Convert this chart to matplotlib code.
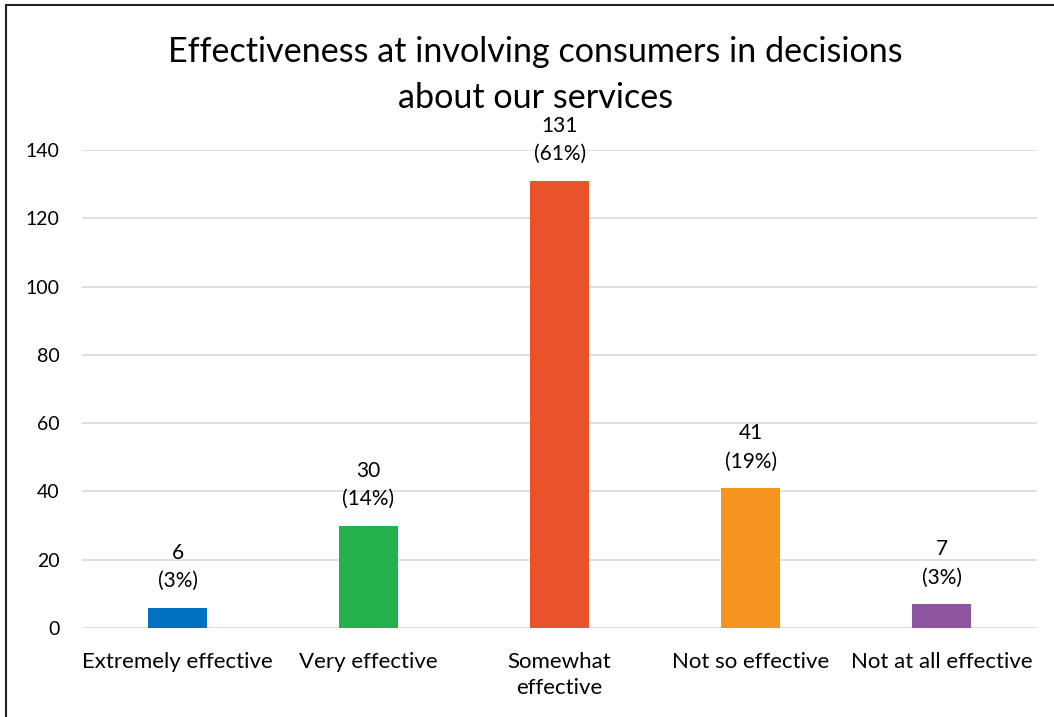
import numpy as np
import matplotlib.pyplot as plt
from matplotlib.patches import Rectangle

categorias = ['Extremely effective', 'Very effective', 'Somewhat\neffective',
              'Not so effective', 'Not at all effective']
respuestas = [6, 30, 131, 41, 7]
porcentajes = [3, 14, 61, 19, 3]
colores = ['#0070C0', '#22B14C', '#E9532B', '#F7941F', '#8E54A0']

plt.rcParams['font.family'] = ['Lato', 'DejaVu Sans']

fig = plt.figure(figsize=(10.54, 7.17), dpi=100)
ax = fig.add_axes([0.0778, 0.1241, 0.9062, 0.6667])

x = np.arange(len(categorias))
barras = ax.bar(x, respuestas, width=0.31, color=colores, zorder=2)

# etiquetas de valor y porcentaje encima de cada barra
for xi, v, p in zip(x, respuestas, porcentajes):
    ax.annotate(f'{v}\n({p}%)', (xi, v), xytext=(0, 12), textcoords='offset points',
                ha='center', va='bottom', fontsize=15, linespacing=1.5)

ax.set_xlim(-0.5, 4.5)
ax.set_ylim(0, 140)
ax.set_yticks(range(0, 141, 20))
ax.set_xticks(x)
ax.set_xticklabels(categorias, fontsize=16, linespacing=1.42)
ax.tick_params(axis='y', labelsize=14, length=0, pad=16)
ax.tick_params(axis='x', length=0, pad=17)
ax.grid(axis='y', color='#D9D9D9', linewidth=1.2, zorder=0)
for s in ax.spines.values():
    s.set_visible(False)

fig.text(0.508, 0.895, 'Effectiveness at involving consumers in decisions\nabout our services',
         ha='center', va='center', fontsize=24.6, linespacing=1.54)

# marco exterior del gráfico
fig.patches.append(Rectangle((6 / 1054, -0.1), 1.2, 1.1 - 5 / 717, transform=fig.transFigure,
                             fill=False, edgecolor='#222222', linewidth=1.5))

fig.savefig('out.png', dpi=100)
